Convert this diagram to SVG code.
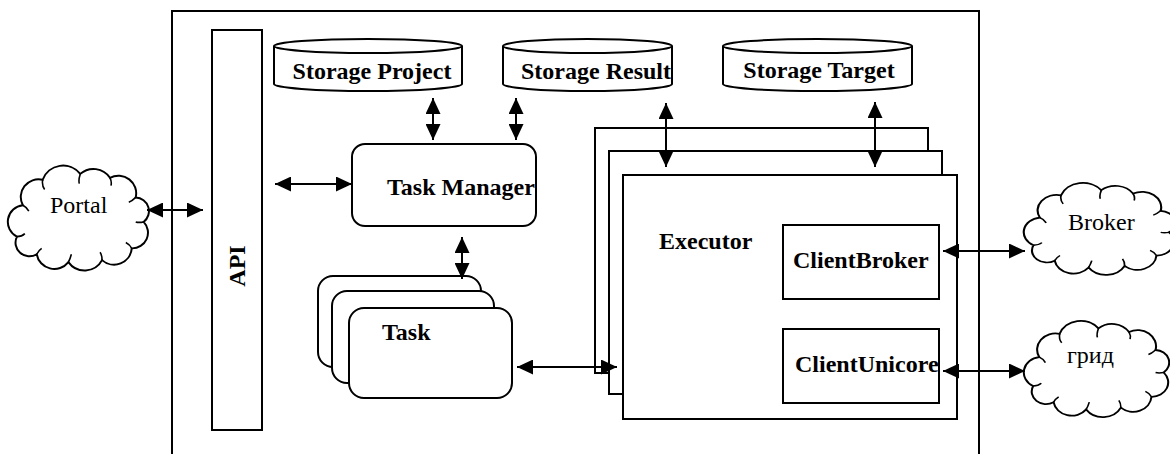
<svg xmlns="http://www.w3.org/2000/svg" width="1170" height="454" viewBox="0 0 1170 454">
<style>
.box{fill:#fff;stroke:#000;stroke-width:2}
.ln{fill:none;stroke:#000;stroke-width:2}
.b{font-family:"Liberation Serif","Times New Roman",serif;font-weight:bold;font-size:24px;fill:#000}
.r{font-family:"Liberation Serif","Times New Roman",serif;font-size:24px;fill:#000}
.cl{fill:#fff;stroke:#000;stroke-width:2;vector-effect:non-scaling-stroke}
.cu{fill:none;stroke:#000;stroke-width:1.6;vector-effect:non-scaling-stroke}
</style>
<defs>
<marker id="ah" markerUnits="userSpaceOnUse" markerWidth="16" markerHeight="15" viewBox="0 0 16 15" refX="16" refY="7.5" orient="auto-start-reverse">
<path d="M0,0 L16,7.5 L0,15 z" fill="#000"/>
</marker>
<path id="cloud" d="M14,38 A18,18 0 0 1 34,12 A22,22 0 0 1 72,6 A20,20 0 0 1 102,10 A18,18 0 0 1 128,30 A14,14 0 0 1 136,55 A16,16 0 0 1 124,82 A18,18 0 0 1 94,94 A20,20 0 0 1 60,96 A18,18 0 0 1 28,88 A14,14 0 0 1 8,70 A17,17 0 0 1 14,38 Z"/>
<path id="curls" d="M34,12 Q33,18 36,22 M72,6 Q70,12 71,16 M102,10 Q104,14 103,18 M128,30 Q124,34 121,35 M136,55 Q131,56 128,55 M124,82 Q122,78 118,76 M94,94 Q94,89 92,86 M60,96 Q62,92 63,88 M28,88 Q30,84 33,82 M8,70 Q13,70 16,67 M14,38 Q18,40 20,44"/>
</defs>

<rect id="frame" x="172" y="11" width="807" height="470" class="ln"/>

<g id="portal">
<g transform="translate(9,168) scale(0.99,0.98)"><use href="#cloud" class="cl"/><use href="#curls" class="cu"/></g>
<text class="r" x="50" y="213">Portal</text>
</g>

<g id="broker">
<g transform="translate(1025,185) scale(1.06,0.86)"><use href="#cloud" class="cl"/><use href="#curls" class="cu"/></g>
<text class="r" x="1068" y="230">Broker</text>
</g>

<g id="grid">
<g transform="translate(1025,323) scale(1.02,0.9)"><use href="#cloud" class="cl"/><use href="#curls" class="cu"/></g>
<text class="r" x="1067" y="363">грид</text>
</g>

<g id="api">
<rect x="212" y="30" width="50" height="400" class="box"/>
<text class="b" text-anchor="middle" transform="translate(245,266) rotate(-90)">API</text>
</g>

<g id="storage-project">
<path d="M274,46 L274,84 A94,7 0 0 0 462,84 L462,46" class="box"/>
<ellipse cx="368" cy="46" rx="94" ry="7" class="box"/>
<text class="b" x="372" y="79" text-anchor="middle">Storage Project</text>
</g>

<g id="storage-result">
<path d="M503,46 L503,84 A84.5,7 0 0 0 672,84 L672,46" class="box"/>
<ellipse cx="587.5" cy="46" rx="84.5" ry="7" class="box"/>
<text class="b" x="596" y="79" text-anchor="middle">Storage Result</text>
</g>

<g id="storage-target">
<path d="M723,46 L723,84 A94.5,7 0 0 0 912,84 L912,46" class="box"/>
<ellipse cx="817.5" cy="46" rx="94.5" ry="7" class="box"/>
<text class="b" x="819" y="78" text-anchor="middle">Storage Target</text>
</g>

<g id="task-manager">
<rect x="352" y="144" width="184" height="82" rx="13" class="box"/>
<text class="b" x="387" y="195">Task Manager</text>
</g>

<g id="task">
<rect x="318" y="276" width="163" height="91" rx="15" class="box"/>
<rect x="332" y="291" width="162" height="92" rx="15" class="box"/>
<rect x="349" y="308" width="163" height="90" rx="15" class="box"/>
<text class="b" x="382" y="340">Task</text>
</g>

<g id="executor">
<rect x="595" y="128" width="333" height="245" class="box"/>
<rect x="609" y="151" width="333" height="243" class="box"/>
<rect x="623" y="175" width="334" height="244" class="box"/>
<text class="b" x="659" y="249">Executor</text>
</g>

<g id="client-broker">
<rect x="783" y="225" width="156" height="74" class="box"/>
<text class="b" x="793" y="268">ClientBroker</text>
</g>

<g id="client-unicore">
<rect x="783" y="329" width="156" height="74" class="box"/>
<text class="b" x="795" y="372">ClientUnicore</text>
</g>

<g id="connectors" class="ln" marker-start="url(#ah)" marker-end="url(#ah)">
<line x1="147" y1="210" x2="203" y2="210"/>
<line x1="275" y1="184" x2="352" y2="184"/>
<line x1="433" y1="98" x2="433" y2="140"/>
<line x1="516" y1="98" x2="516" y2="140"/>
<line x1="666" y1="103" x2="666" y2="167"/>
<line x1="875" y1="102" x2="875" y2="167"/>
<line x1="462" y1="237" x2="462" y2="279"/>
<line x1="517" y1="367" x2="617" y2="367"/>
<line x1="943" y1="251" x2="1025" y2="251"/>
<line x1="943" y1="371" x2="1025" y2="371"/>
</g>
</svg>
